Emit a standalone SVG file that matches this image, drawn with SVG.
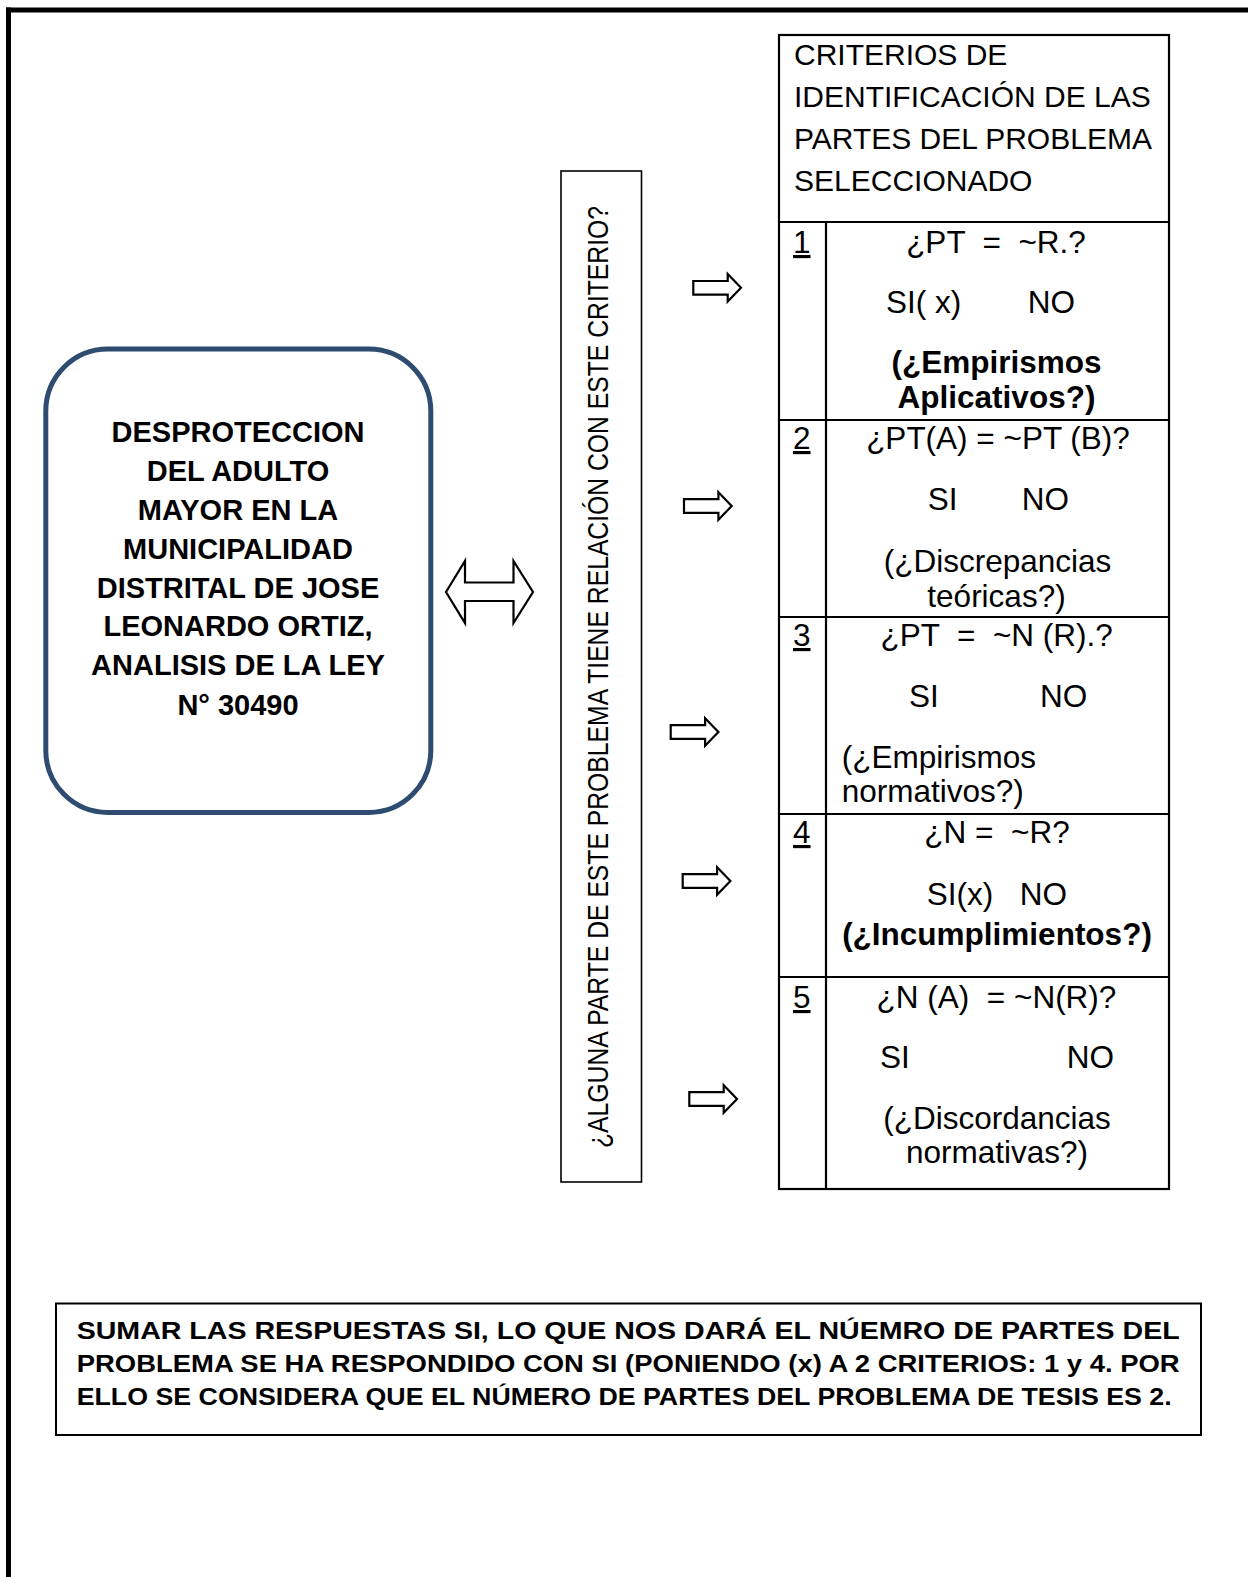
<svg xmlns="http://www.w3.org/2000/svg" width="1248" height="1577" viewBox="0 0 1248 1577">
<style>
.t{font-family:"Liberation Sans",Arial,sans-serif;fill:#000;white-space:pre}
.h{font-size:30px}
.r{font-size:31.5px}
.b{font-weight:bold}
.c{text-anchor:middle}
.e{text-anchor:end}
.ln{stroke:#000;stroke-width:2.2;fill:none}
.arr{fill:#fff;stroke:#000;stroke-width:2.2;stroke-linejoin:miter}
</style>
<defs>
<path id="ra" d="M0,-6.8 H34.4 V-13.8 L47.7,0 L34.4,13.8 V6.8 H0 Z"/>
</defs>
<rect width="1248" height="1577" fill="#fff"/>
<g id="frame">
<line x1="6" y1="10" x2="1248" y2="10" stroke="#000" stroke-width="5"/>
<line x1="8.5" y1="7.5" x2="8.5" y2="1577" stroke="#000" stroke-width="5"/>
</g>
<g id="problema">
<rect x="45.8" y="349" width="385" height="463.5" rx="62" ry="62" fill="#fff" stroke="#2E4B70" stroke-width="5"/>
<text class="t b c" font-size="29"><tspan x="238" y="441.5">DESPROTECCION</tspan><tspan x="238" y="480.5">DEL ADULTO</tspan><tspan x="238" y="520">MAYOR EN LA</tspan><tspan x="238" y="559">MUNICIPALIDAD</tspan><tspan x="238" y="597.5">DISTRITAL DE JOSE</tspan><tspan x="238" y="636">LEONARDO ORTIZ,</tspan><tspan x="238" y="675">ANALISIS DE LA LEY</tspan><tspan x="238" y="714.5">N° 30490</tspan></text>
</g>
<g id="pregunta">
<rect x="561" y="171" width="80.5" height="1011" fill="#fff" stroke="#000" stroke-width="1.6"/>
<text class="t" font-size="29" transform="translate(608,1148) rotate(-90)" x="0" y="0" textLength="942" lengthAdjust="spacingAndGlyphs">¿ALGUNA PARTE DE ESTE PROBLEMA TIENE RELACIÓN CON ESTE CRITERIO?</text>
</g>
<g id="connectors">
<polygon class="arr" stroke-width="3.2" points="446,592 465,561 465,582.5 513.5,582.5 513.5,561 533,592 513.5,623 513.5,601 465,601 465,623"/>
<use href="#ra" class="arr" transform="translate(693.3,287.8)"/>
<use href="#ra" class="arr" transform="translate(684,506)"/>
<use href="#ra" class="arr" transform="translate(670.7,732)"/>
<use href="#ra" class="arr" transform="translate(682.7,881)"/>
<use href="#ra" class="arr" transform="translate(689.3,1099)"/>
</g>
<g id="criterios">
<rect class="ln" x="779" y="35" width="390" height="1154"/>
<line class="ln" x1="779" y1="222" x2="1169" y2="222"/>
<line class="ln" x1="826" y1="222" x2="826" y2="1189"/>
<line class="ln" x1="779" y1="420" x2="1169" y2="420"/>
<line class="ln" x1="779" y1="617" x2="1169" y2="617"/>
<line class="ln" x1="779" y1="814" x2="1169" y2="814"/>
<line class="ln" x1="779" y1="977" x2="1169" y2="977"/>
<text class="t h"><tspan x="794" y="65">CRITERIOS DE</tspan><tspan x="794" y="107">IDENTIFICACIÓN DE LAS</tspan><tspan x="794" y="149">PARTES DEL PROBLEMA</tspan><tspan x="794" y="191">SELECCIONADO</tspan></text>
</g>
<g id="criterio1">
<text class="t r" x="793" y="253" text-decoration="underline">1</text>
<text class="t r c" x="996" y="253">¿PT  =  ~R.?</text>
<text class="t r" y="313"><tspan x="886">SI( x)</tspan><tspan x="1075" text-anchor="end">NO</tspan></text>
<text class="t r b c" x="996.5" y="373">(¿Empirismos</text>
<text class="t r b c" x="996.5" y="408">Aplicativos?)</text>
</g>
<g id="criterio2">
<text class="t r" x="793" y="449" text-decoration="underline">2</text>
<text class="t r c" x="998" y="449">¿PT(A) = ~PT (B)?</text>
<text class="t r" y="510"><tspan x="927.7">SI</tspan><tspan x="1021.7">NO</tspan></text>
<text class="t r c" x="997.5" y="572">(¿Discrepancias</text>
<text class="t r c" x="996.5" y="607">teóricas?)</text>
</g>
<g id="criterio3">
<text class="t r" x="793" y="646" text-decoration="underline">3</text>
<text class="t r c" x="996.7" y="646">¿PT  =  ~N (R).?</text>
<text class="t r" y="707"><tspan x="909">SI</tspan><tspan x="1040">NO</tspan></text>
<text class="t r" x="841.7" y="768">(¿Empirismos</text>
<text class="t r" x="841.7" y="802">normativos?)</text>
</g>
<g id="criterio4">
<text class="t r" x="793" y="843" text-decoration="underline">4</text>
<text class="t r c" x="997" y="843">¿N =  ~R?</text>
<text class="t r" y="905"><tspan x="926.7">SI(x)</tspan><tspan x="1067" text-anchor="end">NO</tspan></text>
<text class="t r b c" x="997" y="945">(¿Incumplimientos?)</text>
</g>
<g id="criterio5">
<text class="t r" x="793" y="1008" text-decoration="underline">5</text>
<text class="t r c" x="996.5" y="1008">¿N (A)  = ~N(R)?</text>
<text class="t r" y="1068"><tspan x="880">SI</tspan><tspan x="1114" text-anchor="end">NO</tspan></text>
<text class="t r c" x="997" y="1129">(¿Discordancias</text>
<text class="t r c" x="997" y="1163">normativas?)</text>
</g>
<g id="conclusion">
<rect x="56" y="1303.5" width="1145" height="131.5" fill="#fff" stroke="#000" stroke-width="2"/>
<text class="t b" font-size="23" x="76.7" y="1338.5" textLength="1103" lengthAdjust="spacingAndGlyphs">SUMAR LAS RESPUESTAS SI, LO QUE NOS DARÁ EL NÚEMRO DE PARTES DEL</text>
<text class="t b" font-size="23" x="76.7" y="1372" textLength="1103" lengthAdjust="spacingAndGlyphs">PROBLEMA SE HA RESPONDIDO CON SI (PONIENDO (x) A 2 CRITERIOS: 1 y 4. POR</text>
<text class="t b" font-size="23" x="76.7" y="1405" textLength="1095" lengthAdjust="spacingAndGlyphs">ELLO SE CONSIDERA QUE EL NÚMERO DE PARTES DEL PROBLEMA DE TESIS ES 2.</text>
</g>
</svg>
